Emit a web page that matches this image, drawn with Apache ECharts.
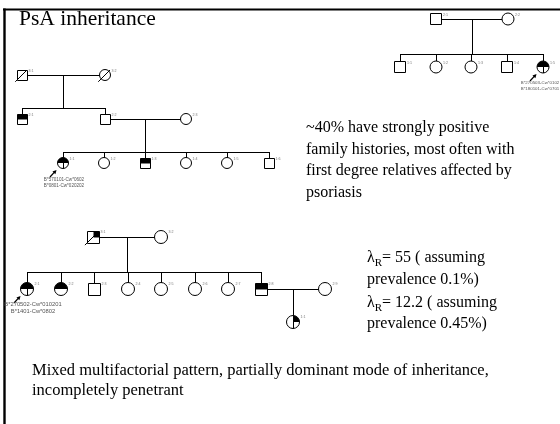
<!DOCTYPE html>
<html><head><meta charset="utf-8">
<script src="https://cdn.jsdelivr.net/npm/echarts@6/dist/echarts.min.js"></script>
<style>html,body{margin:0;padding:0;background:#fff}#c{width:560px;height:424px}</style>
</head><body><div id="c"></div>
<script>
// ---------------- data ----------------
const titleText = 'PsA inheritance';
const noteLines = ['~40% have strongly positive', 'family histories, most often with', 'first degree relatives affected by', 'psoriasis'];
const lambdaValues = ['55', '12.2'];
const prevalenceValues = ['0.1%', '0.45%'];
const footerLines = ['Mixed multifactorial pattern, partially dominant mode of inheritance,', 'incompletely penetrant'];

// Pedigree A (upper left)
const pedA_ids    = ['3:1','3:2','2:1','2:2','2:3','1:1','1:2','1:3','1:4','1:5','1:6'];
const pedA_sex    = ['M','F','M','M','F','F','F','M','F','F','M'];
const pedA_status = ['n','n','h','n','n','hq','n','h','n','n','n'];
const pedA_dead   = [1,1,0,0,0,0,0,0,0,0,0];
const pedA_x      = [22,105,22,105,186,63,104,145,186,227,269];
const pedA_y      = [75,75,119,119,119,163,163,163,163,163,163];
const pedA_families = [[0,1,[2,3],108],[3,4,[5,6,7,8,9,10],152]];
const pedA_proband = 5;
const pedA_genotype = ['B*570101-Cw*0602', 'B*0801-Cw*020202'];

// Pedigree B (upper right)
const pedB_ids    = ['2:1','2:2','1:1','1:2','1:3','1:4','1:5'];
const pedB_sex    = ['M','F','M','F','F','M','F'];
const pedB_status = ['n','n','n','n','n','n','hq'];
const pedB_dead   = [0,0,0,0,0,0,0];
const pedB_x      = [436,508,400,436,471,507,543];
const pedB_y      = [19,19,67,67,67,67,67];
const pedB_families = [[0,1,[2,3,4,5,6],54]];
const pedB_proband = 6;
const pedB_genotype = ['B*270503-Cw*0102', 'B*180101-Cw*0701'];

// Pedigree C (lower)
const pedC_ids    = ['3:1','3:2','2:1','2:2','2:3','2:4','2:5','2:6','2:7','2:8','2:9','1:1'];
const pedC_sex    = ['M','F','F','F','M','F','F','F','F','M','F','F'];
const pedC_status = ['q','n','hq','h','n','n','n','n','n','h','n','q'];
const pedC_dead   = [1,0,0,0,0,0,0,0,0,0,0,0];
const pedC_x      = [93,161,27,61,94,128,161,195,228,261,325,293];
const pedC_y      = [237,237,289,289,289,289,289,289,289,289,289,322];
const pedC_families = [[0,1,[2,3,4,5,6,7,8,9],272],[9,10,[11],null]];
const pedC_proband = 2;
const pedC_genotype = ['B*270502-Cw*010201', 'B*1401-Cw*0802'];

// ---------------- presentation ----------------
const SERIF = '"Liberation Serif","Times New Roman",serif';
const SANS = '"Liberation Sans",Arial,sans-serif';
const peds = [
  {ids:pedA_ids, sex:pedA_sex, st:pedA_status, dead:pedA_dead, x:pedA_x, y:pedA_y, fam:pedA_families, proband:pedA_proband, geno:pedA_genotype,
   size:10, genoFont:4.6, genoDx:1, genoDy:[17,23]},
  {ids:pedB_ids, sex:pedB_sex, st:pedB_status, dead:pedB_dead, x:pedB_x, y:pedB_y, fam:pedB_families, proband:pedB_proband, geno:pedB_genotype,
   size:11, genoFont:4.4, genoDx:-3, genoDy:[16,22]},
  {ids:pedC_ids, sex:pedC_sex, st:pedC_status, dead:pedC_dead, x:pedC_x, y:pedC_y, fam:pedC_families, proband:pedC_proband, geno:pedC_genotype,
   size:12, genoFont:5.8, genoDx:6, genoDy:[15,22]}
];

const personData = [];
peds.forEach((P, p) => P.ids.forEach((id, i) => personData.push([P.x[i], P.y[i], p, i])));

const segData = [];
peds.forEach(P => {
  const h = P.size / 2;
  P.fam.forEach(([f, m, kids, sibY]) => {
    const fx = P.x[f], mx = P.x[m], y = P.y[f];
    const l = Math.min(fx, mx), r = Math.max(fx, mx);
    segData.push([l + h, y, r - h, y]);
    const mid = (fx + mx) / 2;
    if (kids.length === 1) {
      segData.push([mid, y, mid, P.y[kids[0]] - h]);
    } else {
      segData.push([mid, y, mid, sibY]);
      const xs = kids.map(k => P.x[k]);
      segData.push([Math.min(...xs), sibY, Math.max(...xs), sibY]);
      kids.forEach(k => segData.push([P.x[k], sibY, P.x[k], P.y[k] - h]));
    }
  });
});

const crisp = v => Math.round(v - 0.5) + 0.5;
const INK = '#000';

function renderPerson(params, api) {
  const p = api.value(2), i = api.value(3);
  const P = peds[p];
  const c = api.coord([api.value(0), api.value(1)]);
  const s = api.size([P.size, P.size])[0];
  const cx = Math.round(c[0]), cy = Math.round(c[1]), h = s / 2;
  const sex = P.sex[i], st = P.st[i];
  const ch = [];
  if (sex === 'M') {
    const x0 = crisp(cx - h), y0 = crisp(cy - h);
    ch.push({type:'rect', shape:{x:x0, y:y0, width:s, height:s}, style:{fill:'#fff'}});
    if (st === 'h' || st === 'hq') ch.push({type:'rect', shape:{x:x0, y:y0, width:s, height:s/2}, style:{fill:INK}});
    if (st === 'q') ch.push({type:'rect', shape:{x:x0 + s/2, y:y0, width:s/2, height:s/2}, style:{fill:INK}});
    ch.push({type:'rect', shape:{x:x0, y:y0, width:s, height:s}, style:{fill:null, stroke:INK, lineWidth:1}});
  } else {
    const r = h + 0.5;
    ch.push({type:'circle', shape:{cx, cy, r}, style:{fill:'#fff'}});
    if (st === 'h' || st === 'hq') ch.push({type:'sector', shape:{cx, cy, r0:0, r, startAngle:Math.PI, endAngle:2*Math.PI, clockwise:true}, style:{fill:INK}});
    if (st === 'q') ch.push({type:'sector', shape:{cx, cy, r0:0, r, startAngle:1.5*Math.PI, endAngle:2*Math.PI, clockwise:true}, style:{fill:INK}});
    if (st === 'hq' || st === 'q') ch.push({type:'line', shape:{x1:cx + 0.5, y1:cy, x2:cx + 0.5, y2:cy + r}, style:{stroke:INK, lineWidth:1}});
    ch.push({type:'circle', shape:{cx, cy, r}, style:{fill:null, stroke:INK, lineWidth:1}});
  }
  if (P.dead[i]) {
    ch.push({type:'line', shape:{x1:cx - h*1.35, y1:cy + h*1.35, x2:cx + h, y2:cy - h}, style:{stroke:INK, lineWidth:1}});
  }
  ch.push({type:'text', style:{text:P.ids[i], x:cx + h + 1.5, y:cy - h + 1, fontSize:3.6, fontFamily:SANS, fill:'#777',
    align:'left', verticalAlign:'middle', textAlign:'left', textVerticalAlign:'middle'}});
  if (i === P.proband) {
    const A = [cx - 13, cy + 14], T = [cx - 6.5, cy + 7];
    const dx = T[0] - A[0], dy = T[1] - A[1], L = Math.hypot(dx, dy), ux = dx / L, uy = dy / L;
    const nx = -uy, ny = ux, hl = 3.8, hw = 2;
    ch.push({type:'line', shape:{x1:A[0], y1:A[1], x2:T[0] - ux*2, y2:T[1] - uy*2}, style:{stroke:INK, lineWidth:1.2}});
    ch.push({type:'polygon', shape:{points:[T, [T[0] - ux*hl + nx*hw, T[1] - uy*hl + ny*hw], [T[0] - ux*hl - nx*hw, T[1] - uy*hl - ny*hw]]}, style:{fill:INK}});
    P.geno.forEach((g, k) => ch.push({type:'text', style:{text:g, x:cx + P.genoDx, y:cy + P.genoDy[k], fontSize:P.genoFont, fontFamily:SANS, fill:'#555',
      align:'center', verticalAlign:'middle', textAlign:'center', textVerticalAlign:'middle'}}));
  }
  return {type:'group', children:ch};
}

function renderSeg(params, api) {
  const a = api.coord([api.value(0), api.value(1)]);
  const b = api.coord([api.value(2), api.value(3)]);
  let x1 = a[0], y1 = a[1], x2 = b[0], y2 = b[1];
  if (Math.abs(y1 - y2) < 0.01) { y1 = y2 = crisp(y1); }
  if (Math.abs(x1 - x2) < 0.01) { x1 = x2 = crisp(x1); }
  return {type:'line', shape:{x1, y1, x2, y2}, style:{stroke:INK, lineWidth:1}};
}

const lambdaRich = {
  l: {fontSize:16, fontFamily:SERIF, lineHeight:21.5, fill:INK},
  s: {fontSize:11, fontFamily:SERIF, lineHeight:10, verticalAlign:'bottom', fill:INK},
  t: {fontSize:16, fontFamily:SERIF, lineHeight:21.5, fill:INK}
};
const lambdaText = k => `{l|λ}{s|R}{t|= ${lambdaValues[k]} ( assuming}\n{t|prevalence ${prevalenceValues[k]})}`;

const option = {
  animation: false,
  backgroundColor: '#fff',
  grid: {left:0, right:0, top:0, bottom:0},
  xAxis: {type:'value', min:0, max:560, show:false},
  yAxis: {type:'value', min:0, max:424, inverse:true, show:false},
  series: [
    {type:'custom', name:'links', data:segData, renderItem:renderSeg, clip:false, encode:{x:[0,2], y:[1,3]}, silent:true},
    {type:'custom', name:'persons', data:personData, renderItem:renderPerson, clip:false, encode:{x:0, y:1}, silent:true}
  ],
  graphic: [
    {type:'line', shape:{x1:3, y1:9.5, x2:560, y2:9.5}, style:{stroke:INK, lineWidth:2.2}},
    {type:'line', shape:{x1:4.5, y1:8.5, x2:4.5, y2:424}, style:{stroke:INK, lineWidth:2.4}},
    {type:'text', x:19, y:19.5, style:{text:titleText, font:'21.5px ' + SERIF, fill:INK, align:'left', verticalAlign:'middle', textAlign:'left', textVerticalAlign:'middle'}},
    {type:'text', x:306, y:117.5, style:{text:noteLines.join('\n'), font:'16px ' + SERIF, lineHeight:21.5, fill:INK, align:'left', verticalAlign:'top', textAlign:'left', textVerticalAlign:'top'}},
    {type:'text', x:367, y:247.5, style:{text:lambdaText(0), rich:lambdaRich, fill:INK, align:'left', verticalAlign:'top', textAlign:'left', textVerticalAlign:'top'}},
    {type:'text', x:367, y:292, style:{text:lambdaText(1), rich:lambdaRich, fill:INK, align:'left', verticalAlign:'top', textAlign:'left', textVerticalAlign:'top'}},
    {type:'text', x:32, y:361, style:{text:footerLines.join('\n'), font:'16.5px ' + SERIF, lineHeight:20, fill:INK, align:'left', verticalAlign:'top', textAlign:'left', textVerticalAlign:'top'}}
  ]
};
const chart = echarts.init(document.getElementById('c'));
chart.setOption(option);
</script>
</body></html>
